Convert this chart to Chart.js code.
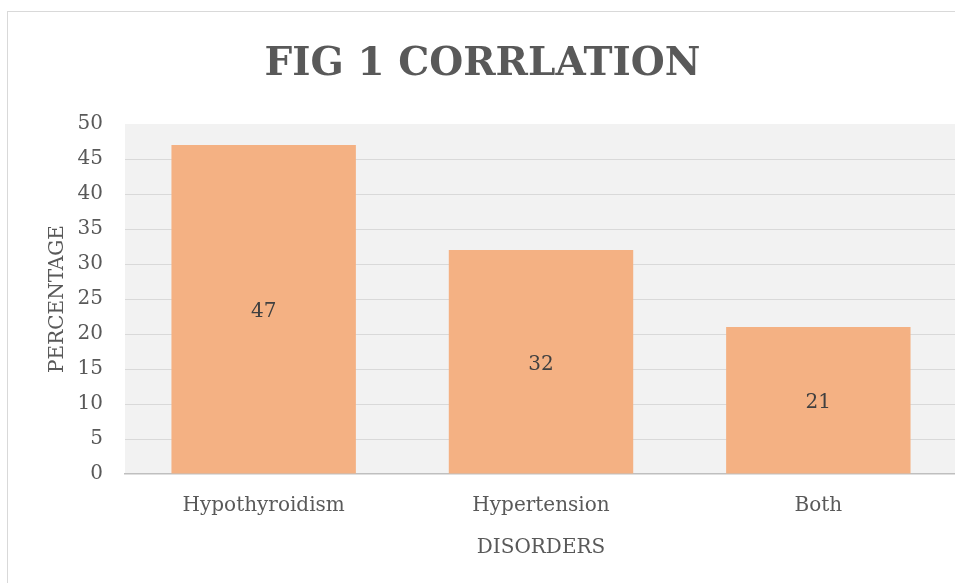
<!DOCTYPE html>
<html>
<head>
<meta charset="utf-8">
<script src="https://cdn.jsdelivr.net/npm/chart.js@4"></script>
<style>
  html, body { margin: 0; padding: 0; background: #fff; overflow: hidden; width: 955px; height: 583px; }
  #wrap { position: absolute; left: 7px; top: 11px; border: 1px solid #d9d9d9; background: #fff; }
  canvas { display: block; }
</style>
</head>
<body>
<div id="wrap"><canvas id="grafico" width="958" height="575"></canvas></div>
<script>
// dados do gráfico
const categorias = ['Hypothyroidism', 'Hypertension', 'Both'];
const valores = [47, 32, 21];
const tituloGrafico = 'FIG 1 CORRLATION';
const tituloX = 'DISORDERS';
const tituloY = 'PERCENTAGE';
const yMin = 0, yMax = 50, yPasso = 5;

const cinzaTexto = '#595959';
const serif = "'DejaVu Serif', serif";

// fundo cinza da área de plotagem
const fundoPlot = {
  id: 'fundoPlot',
  beforeDraw(chart) {
    const { ctx, chartArea: a } = chart;
    ctx.save();
    ctx.fillStyle = '#f2f2f2';
    ctx.fillRect(a.left, a.top, a.right - a.left, a.bottom - a.top);
    ctx.restore();
  }
};

// rótulos de valor no centro das barras
const rotulosBarras = {
  id: 'rotulosBarras',
  afterDatasetsDraw(chart) {
    const { ctx } = chart;
    const meta = chart.getDatasetMeta(0);
    ctx.save();
    ctx.font = '20px ' + serif;
    ctx.fillStyle = '#404040';
    ctx.textAlign = 'center';
    ctx.textBaseline = 'middle';
    meta.data.forEach((bar, i) => {
      const meio = (bar.y + bar.base) / 2 + 3; // ajuste da métrica da fonte
      ctx.fillText(String(valores[i]), bar.x, meio);
    });
    ctx.restore();
  }
};

const ctx = document.getElementById('grafico').getContext('2d');
const chart = new Chart(ctx, {
  type: 'bar',
  data: {
    labels: categorias,
    datasets: [{
      label: 'Percentage',
      data: valores,
      backgroundColor: '#f4b183',
      borderWidth: 0,
      categoryPercentage: 1,
      barPercentage: 0.665
    }]
  },
  options: {
    responsive: false,
    animation: false,
    layout: { padding: { left: 0, right: 9, top: 0, bottom: 0 } },
    plugins: {
      legend: { display: false },
      tooltip: { enabled: false },
      title: {
        display: true,
        text: tituloGrafico,
        color: cinzaTexto,
        font: { family: serif, size: 39, weight: 'bold', lineHeight: 1.2 },
        padding: { top: 29, bottom: 36.2 }
      }
    },
    scales: {
      x: {
        grid: { display: false, drawTicks: false },
        border: { display: true, color: '#bfbfbf', width: 1.5 },
        ticks: { color: cinzaTexto, font: { family: serif, size: 20 }, padding: 20, maxRotation: 0 },
        title: {
          display: true, text: tituloX, color: cinzaTexto,
          font: { family: serif, size: 20 }, padding: { top: 0, bottom: 27 }
        },
        afterFit(scale) { scale.height = 113; }
      },
      y: {
        min: yMin, max: yMax,
        grid: {
          drawTicks: false,
          color: c => (c.tick.value === yMax || c.tick.value === yMin) ? 'rgba(0,0,0,0)' : '#d9d9d9',
          lineWidth: 1
        },
        border: { display: false },
        ticks: { stepSize: yPasso, color: cinzaTexto, font: { family: serif, size: 20 }, padding: 22 },
        title: {
          display: true, text: tituloY, color: cinzaTexto,
          font: { family: serif, size: 20 }, padding: { top: 38, bottom: 0 }
        },
        afterFit(scale) { scale.width = 117; }
      }
    }
  },
  plugins: [fundoPlot, rotulosBarras]
});
</script>
</body>
</html>
